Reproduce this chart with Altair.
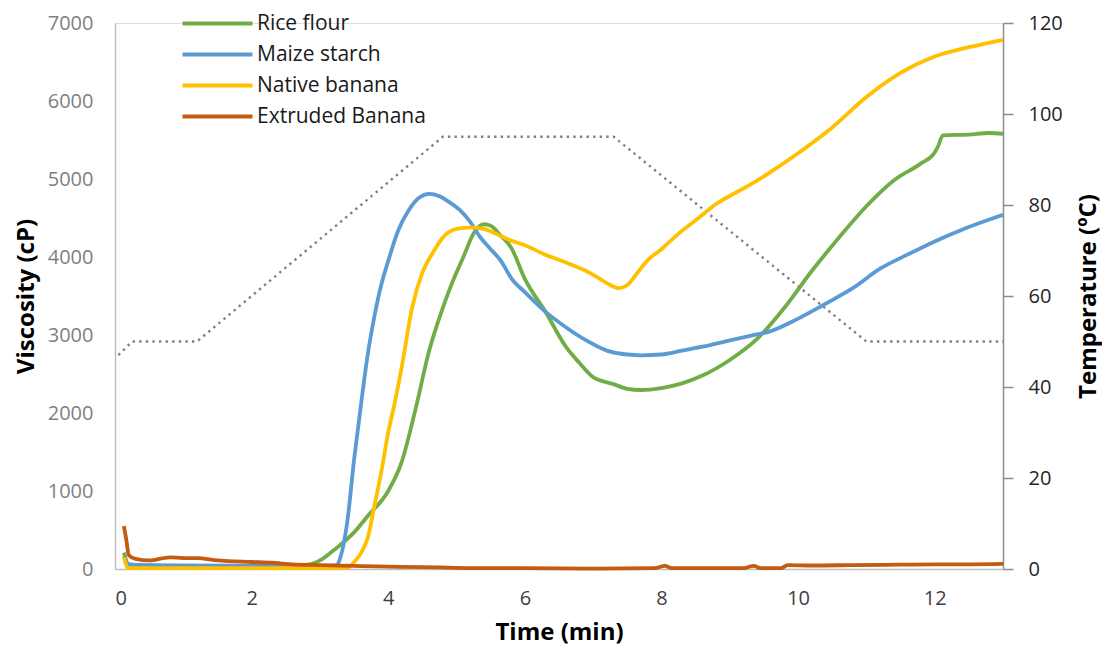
import altair as alt
import pandas as pd

FONT = "Open Sans"

series_names = ["Rice flour", "Maize starch", "Native banana", "Extruded Banana"]
series_colors = ["#70AD47", "#5B9BD5", "#FFC000", "#C55A11"]

rice_t = [0.13, 0.2, 0.5, 1.0, 2.0, 2.6, 2.85, 3.0, 3.2, 3.5, 3.7, 4.0, 4.2, 4.4, 4.6,
          4.8, 4.95, 5.1, 5.25, 5.4, 5.5, 5.65, 5.8, 6.0, 6.3, 6.6, 6.8, 7.0, 7.3, 7.5,
          7.7, 8.0, 8.3, 8.6, 9.0, 9.4, 9.8, 10.2, 10.6, 11.0, 11.4, 11.8, 12.0, 12.05,
          12.12, 12.5, 12.8, 13.0]
rice_v = [210, 60, 45, 40, 40, 45, 60, 110, 240, 470, 680, 1000, 1380, 2050, 2800,
          3350, 3700, 4000, 4300, 4420, 4400, 4270, 4120, 3720, 3300, 2850, 2640, 2460, 2370, 2310,
          2295, 2320, 2380, 2480, 2680, 2950, 3350, 3820, 4250, 4650, 4980, 5200, 5340, 5420,
          5560, 5570, 5590, 5580]

maize_t = [0.13, 0.2, 0.5, 1.0, 2.0, 3.0, 3.25, 3.3, 3.4, 3.5, 3.6, 3.7, 3.8, 3.9, 4.0,
           4.15, 4.3, 4.45, 4.6, 4.75, 4.9, 5.05, 5.2, 5.35, 5.5, 5.65, 5.8, 6.0, 6.3, 6.6,
           6.9, 7.2, 7.5, 7.7, 8.0, 8.3, 8.6, 9.0, 9.3, 9.6, 10.0, 10.4, 10.8, 11.2, 11.6,
           12.0, 12.4, 12.8, 13.0]
maize_v = [160, 60, 50, 45, 40, 35, 50, 150, 600, 1400, 2100, 2750, 3250, 3650, 3950,
           4350, 4600, 4760, 4810, 4780, 4700, 4600, 4450, 4250, 4100, 3950, 3730, 3550, 3300, 3100,
           2930, 2800, 2750, 2740, 2750, 2800, 2850, 2930, 2990, 3050, 3210, 3400, 3600, 3850, 4030,
           4200, 4350, 4480, 4540]

banana_t = [0.13, 0.2, 0.5, 1.0, 2.0, 3.0, 3.4, 3.5, 3.6, 3.7, 3.8, 3.9, 4.0, 4.1, 4.2,
            4.35, 4.5, 4.65, 4.8, 5.0, 5.2, 5.4, 5.6, 5.8, 6.0, 6.3, 6.6, 6.9, 7.1, 7.25,
            7.38, 7.5, 7.65, 7.8, 8.0, 8.25, 8.5, 8.8, 9.1, 9.4, 9.7, 10.0, 10.5, 11.0, 11.5,
            12.0, 12.5, 13.0]
banana_v = [150, 10, 10, 10, 10, 10, 15, 90, 200, 400, 820, 1250, 1750, 2150, 2600,
            3350, 3800, 4050, 4250, 4360, 4380, 4360, 4290, 4210, 4150, 4030, 3930, 3820, 3720, 3640,
            3600, 3640, 3800, 3960, 4100, 4300, 4470, 4680, 4830, 4980, 5150, 5330, 5660, 6050, 6360,
            6570, 6690, 6785]

extruded_t = [0.13, 0.17, 0.2, 0.3, 0.5, 0.8, 1.0, 1.2, 1.5, 2.0, 2.3, 2.6, 3.0, 3.5, 4.0,
              4.5, 5.0, 5.5, 6.0, 7.0, 7.9, 8.05, 8.15, 9.2, 9.35, 9.45, 9.75, 9.85, 10.2, 10.8,
              11.5, 12.0, 12.5, 13.0]
extruded_v = [550, 350, 180, 130, 110, 150, 140, 140, 110, 90, 80, 60, 50, 40, 30,
              25, 15, 10, 10, 5, 10, 40, 10, 10, 40, 10, 10, 50, 45, 50,
              55, 60, 60, 65]

temp_t = [0.05, 0.25, 1.2, 4.8, 7.3, 11.0, 13.0]
temp_c = [47, 50, 50, 95, 95, 50, 50]

x_ticks = [0, 2, 4, 6, 8, 10, 12]
visc_ticks = [0, 1000, 2000, 3000, 4000, 5000, 6000, 7000]
temp_ticks = [0, 20, 40, 60, 80, 100, 120]

frames = []
for name, ts, vs in zip(series_names,
                        [rice_t, maize_t, banana_t, extruded_t],
                        [rice_v, maize_v, banana_v, extruded_v]):
    frames.append(pd.DataFrame({"series": name, "time": ts, "visc": vs}))
visc_df = pd.concat(frames, ignore_index=True)
temp_df = pd.DataFrame({"time": temp_t, "temp": temp_c})

W, H = 888, 546

x_enc = alt.X(
    "time:Q",
    scale=alt.Scale(domain=[0, 13], nice=False),
    axis=alt.Axis(
        values=x_ticks, format="d", title="Time (min)",
        domain=True, domainColor="#bfbfbf", domainWidth=1.5,
        ticks=False, tickSize=0, labelPadding=19,
        labelColor="#404040", labelFontSize=20, labelFont=FONT,
        titleFont=FONT, titleFontSize=24, titleFontWeight="bold", titleColor="#000000",
        titleX=W / 2, titleY=63, titleBaseline="middle", titleAlign="center",
        grid=False,
    ),
)

temp_line = alt.Chart(temp_df).mark_line(
    color="#808080", strokeWidth=2.4, strokeDash=[2.4, 4.2]
).encode(
    x=x_enc,
    y=alt.Y(
        "temp:Q",
        scale=alt.Scale(domain=[0, 120], nice=False),
        axis=alt.Axis(
            orient="right", values=temp_ticks, format="d", title="Temperature (ºC)",
            domain=True, domainColor="#8c8c8c", domainWidth=1.5,
            ticks=True, tickColor="#8c8c8c", tickWidth=1.5, tickSize=10, labelPadding=15,
            labelColor="#262626", labelFontSize=20, labelFont=FONT,
            titleFont=FONT, titleFontSize=24, titleFontWeight="bold", titleColor="#000000",
            titleAngle=270, titleAlign="center", titleBaseline="middle",
            titleX=85, titleY=H / 2, grid=False,
        ),
    ),
)

visc_lines = alt.Chart(visc_df).mark_line(strokeWidth=3.8, interpolate="monotone").encode(
    x=x_enc,
    y=alt.Y(
        "visc:Q",
        scale=alt.Scale(domain=[0, 7000], nice=False),
        axis=alt.Axis(
            orient="left", values=visc_ticks, format="d", title="Viscosity (cP)",
            domain=True, domainColor="#bfbfbf", domainWidth=1.5,
            ticks=False, tickSize=0, labelPadding=22,
            labelColor="#7f7f7f", labelFontSize=20, labelFont=FONT,
            titleFont=FONT, titleFontSize=24, titleFontWeight="bold", titleColor="#000000",
            titleAngle=270, titleAlign="center", titleBaseline="middle",
            titleX=-89, titleY=H / 2, grid=False,
        ),
    ),
    color=alt.Color(
        "series:N",
        sort=series_names,
        scale=alt.Scale(domain=series_names, range=series_colors),
        legend=alt.Legend(
            title=None, orient="none", legendX=92, legendY=-10,
            symbolType="M-35,0H35", symbolSize=4, symbolStrokeWidth=4,
            labelFont=FONT, labelFontSize=21, labelColor="#1a1a1a",
            labelOffset=29, rowPadding=9, labelLimit=400,
        ),
    ),
)

chart = alt.layer(temp_line, visc_lines).resolve_scale(y="independent").properties(
    width=W, height=H,
    autosize=alt.AutoSizeParams(type="none"),
    padding={"left": 107, "top": 15, "right": 99, "bottom": 76},
).configure_view(stroke=None).configure(background="white")

chart.save("out.html", embed_options={"renderer": "svg", "actions": False})
